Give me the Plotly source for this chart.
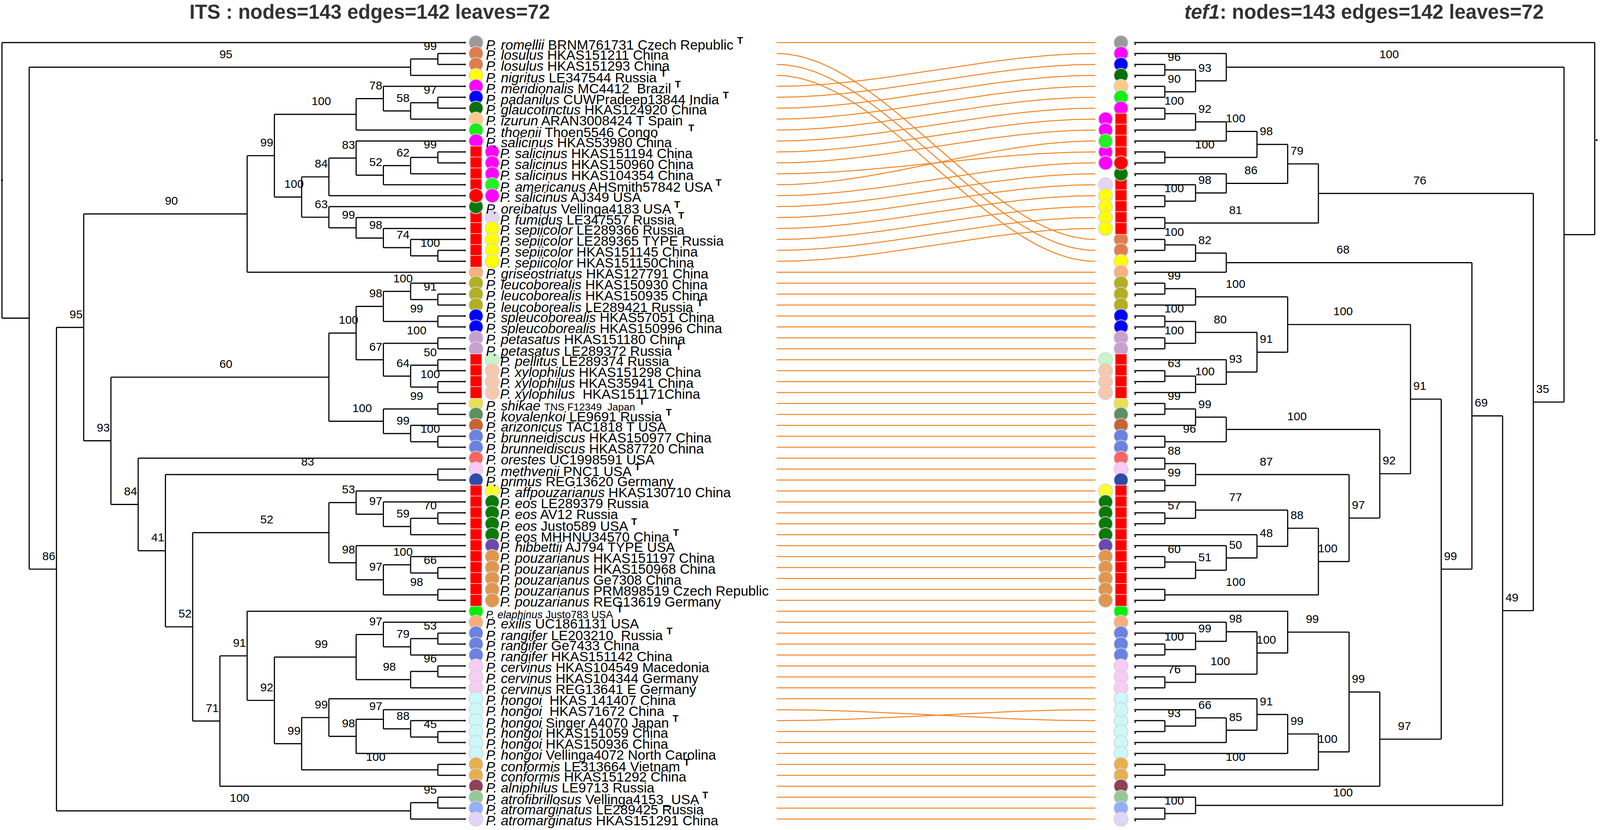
import numpy as np
import plotly.graph_objects as go

# ------------------------------------------------------------------ data
SPECIES = [
    "romellii", "losulus", "losulus", "nigritus", "meridionalis", "padanilus", "glaucotinctus",
    "izurun", "thoenii", "salicinus", "salicinus", "salicinus", "salicinus", "americanus",
    "salicinus", "oreibatus", "fumidus", "sepiicolor", "sepiicolor", "sepiicolor", "sepiicolor",
    "griseostriatus", "leucoborealis", "leucoborealis", "leucoborealis", "spleucoborealis",
    "spleucoborealis", "petasatus", "petasatus", "pellitus", "xylophilus", "xylophilus",
    "xylophilus", "shikae", "kovalenkoi", "arizonicus", "brunneidiscus", "brunneidiscus",
    "orestes", "methvenii", "primus", "affpouzarianus", "eos", "eos", "eos", "eos", "hibbettii",
    "pouzarianus", "pouzarianus", "pouzarianus", "pouzarianus", "pouzarianus", "elaphinus",
    "exilis", "rangifer", "rangifer", "rangifer", "cervinus", "cervinus", "cervinus", "hongoi",
    "hongoi", "hongoi", "hongoi", "hongoi", "hongoi", "conformis", "conformis", "alniphilus",
    "atrofibrillosus", "atromarginatus", "atromarginatus",
]
VOUCHER = [
    "BRNM761731 Czech Republic", "HKAS151211 China", "HKAS151293 China", "LE347544 Russia",
    "MC4412  Brazil", "CUWPradeep13844 India", "HKAS124920 China", "ARAN3008424 T Spain",
    "Thoen5546 Congo       ", "HKAS53980 China", "HKAS151194 China", "HKAS150960 China",
    "HKAS104354 China", "AHSmith57842 USA", "AJ349 USA", "Vellinga4183 USA", "LE347557 Russia",
    "LE289366 Russia", "LE289365 TYPE Russia", "HKAS151145 China", "HKAS151150China",
    "HKAS127791 China", "HKAS150930 China", "HKAS150935 China", "LE289421 Russia",
    "HKAS57051 China", "HKAS150996 China", "HKAS151180 China", "LE289372 Russia",
    "LE289374 Russia", "HKAS151298 China", "HKAS35941 China", " HKAS151171China",
    "TNS F12349  Japan", "LE9691 Russia", "TAC1818 T USA", "HKAS150977 China", "HKAS87720 China",
    "UC1998591 USA", "PNC1 USA", "REG13620 Germany", "HKAS130710 China", "LE289379 Russia",
    "AV12 Russia", "Justo589 USA", "MHHNU34570 China", "AJ794 TYPE USA", "HKAS151197 China",
    "HKAS150968 China", "Ge7308 China", "PRM898519 Czech Republic", "REG13619 Germany",
    "Justo783 USA", "UC1861131 USA", "LE203210  Russia", "Ge7433 China", "HKAS151142 China",
    "HKAS104549 Macedonia", "HKAS104344 Germany", "REG13641 E Germany", " HKAS 141407 China",
    " HKAS71672 China", "Singer A4070 Japan", "HKAS151059 China", "HKAS150936 China",
    "Vellinga4072 North Carolina", "LE313664 Vietnam", "HKAS151292 China", "LE9713 Russia",
    "Vellinga4153_USA", "LE289425 Russia", "HKAS151291 China",
]
TYPE_LEAVES = [1, 4, 5, 6, 9, 14, 16, 17, 25, 29, 34, 35, 40, 45, 46, 53, 55, 63, 67, 70]
SMALL_VOUCHER_LEAVES = [34]
SMALL_LABEL_LEAVES = [53]

COLORS = [
    "#9a9a9a", "#e07d4e", "#e07d4e", "#ffff00", "#ff00ff", "#0000ff", "#0a700a", "#ffcb8a",
    "#11f011", "#ff00ff", "#ff00ff", "#ff00ff", "#ff00ff", "#22f022", "#ff00ff", "#087808",
    "#e6d4f6", "#ffff00", "#ffff00", "#ffff00", "#ffff00", "#f8b07e", "#b2b020", "#b2b020",
    "#b2b020", "#0000ff", "#0000ff", "#c8a0cf", "#c8a0cf", "#c8f5c8", "#f8c8ae", "#f8c8ae",
    "#f8c8ae", "#e8e050", "#5e9060", "#c86432", "#6a82e0", "#6a82e0", "#ff6464", "#f8c8f8",
    "#2f4baa", "#ffff30", "#0a7a0a", "#0a7a0a", "#0a7a0a", "#0a7a0a", "#6a48b0", "#e0964e",
    "#e0964e", "#e0964e", "#e0964e", "#e0964e", "#00f000", "#f8ae7a", "#6a82e0", "#6a82e0",
    "#6a82e0", "#f8ccf5", "#f8ccf5", "#f8ccf5", "#ccf8f8", "#ccf8f8", "#ccf8f8", "#ccf8f8",
    "#ccf8f8", "#ccf8f8", "#e6b050", "#e6b050", "#904058", "#96c896", "#96aef8", "#e2d4f8",
]
RED_SQUARE_LEAVES = list(range(11, 22)) + list(range(30, 34)) + list(range(42, 53))
SECOND_COLUMN_LEAVES = [11, 12, 13, 14, 15, 17, 18, 19, 20, 21, 30, 31, 32, 33] + list(range(42, 53))
RED_DOT_LEAVES = [15]

# trees: (height, support, child, child)   leaf = leaf number
LEFT_TREE = (17, "", 1,
  (16, "",
    (2, "95", (1, "99", 2, 3), 4),
    (15, "86",
      (14, "95",
        (8, "90",
          (7, "99",
            (4, "100", (3, "78", 5, (2, "58", (1, "97", 6, 7), 8)), 9),
            (6, "100",
              (5, "84", (4, "83", 10, (3, "52", (2, "62", (1, "99", 11, 12), 13), 14)), 15),
              (5, "63", 16, (4, "99", 17, (3, "98", 18, (2, "74", 19, (1, "100", 20, 21))))))),
          22),
        (13, "93",
          (5, "60",
            (4, "100",
              (3, "98", (2, "100", 23, (1, "91", 24, 25)), (1, "99", 26, 27)),
              (3, "67", (1, "100", 28, 29), (2, "64", (1, "50", 30, 31), (1, "100", 32, 33)))),
            (3, "100", (1, "99", 34, 35), (2, "99", 36, (1, "100", 37, 38)))),
          (12, "84", 39,
            (11, "41", (1, "83", 40, 41),
              (10, "52",
                (5, "52",
                  (4, "53", 42, (3, "97", 43, (2, "59", (1, "70", 44, 45), 46))),
                  (4, "98", 47, (3, "97", (2, "100", 48, (1, "66", 49, 50)), (1, "98", 51, 52)))),
                (9, "71",
                  (8, "91", 53,
                    (7, "92",
                      (4, "99", (3, "97", 54, (2, "79", (1, "53", 55, 56), 57)),
                                (2, "98", (1, "96", 58, 59), 60)),
                      (6, "99", (5, "99", 61, (4, "98", (3, "97", 62, (2, "88", 63, (1, "45", 64, 65))), 66)),
                                (1, "100", 67, 68)))),
                  69)))))),
      (2, "100", (1, "95", 70, 71), 72))))

RIGHT_TREE = (15, "", 1,
  (14, "",
    (3, "100", 5, (2, "93", (1, "96", 6, 7), (1, "90", 8, 9))),
    (13, "35",
      (6, "76",
        (5, "79",
          (4, "98", (3, "100", (2, "92", (1, "100", 10, 11), 12), 14), (1, "100", 13, 15)),
          (3, "86", 16, (2, "98", 17, (1, "100", 18, 19)))),
        (1, "81", 20, 21)),
      (12, "49",
        (11, "69",
          (3, "68", (2, "82", (1, "100", 2, 3), 4), 22),
          (10, "99",
            (9, "91",
              (5, "100",
                (2, "100", (1, "99", 23, 24), 25),
                (4, "91",
                  (2, "80", (1, "100", 26, 27), (1, "100", 28, 29)),
                  (3, "93", 30, (2, "100", (1, "63", 31, 32), 33)))),
              (8, "92",
                (3, "100", (2, "99", (1, "99", 34, 35), 36), (1, "96", 37, 38)),
                (7, "97",
                  (2, "87", (1, "88", 39, 40), (1, "99", 41, 42)),
                  (6, "100",
                    (5, "88",
                      (2, "77", 43, (1, "57", 44, 45)),
                      (4, "48", 46, (3, "50", 47, (2, "51", (1, "60", 48, 49), 50)))),
                    (1, "100", 51, 52))))),
            (8, "97",
              (7, "99",
                (5, "99", 53, (4, "100", (3, "98", 54, (2, "99", 55, (1, "100", 56, 57))),
                                         (2, "100", 58, (1, "76", 59, 60)))),
                (6, "100", (5, "99", (4, "91", 61, (3, "85", (2, "66", 63, (1, "93", 62, 64)), 65)), 66),
                           (1, "100", 67, 68))),
              69))),
        (2, "100", 70, (1, "100", 71, 72))))))

TITLE_LEFT = "ITS : nodes=143 edges=142 leaves=72"
TITLE_RIGHT = "<i>tef1</i>: nodes=143 edges=142 leaves=72"

# ------------------------------------------------------------------ layout constants
W, H = 4252, 2125
Y0, ROW = 109, 28
L_TIP, L_UNIT = 1236, 72.4
R_TIP, R_UNIT = 3014, 81.6
L_COL1, L_COL2 = 1265, 1308
R_COL1, R_COL2 = 2979, 2938
L_TEXT1, L_TEXT2 = 1289, 1327
CONN_L, CONN_R = 2064, 2911
FONT = "Liberation Sans, Arial, sans-serif"
ORANGE = "#f0821e"


def leaf_order(node):
    if isinstance(node, int):
        return [node]
    out = []
    for k in node[2:]:
        out += leaf_order(k)
    return out


def layout_tree(tree, tip_x, unit, direction, ypos):
    xs, ys, labels = [], [], []

    def rec(node):
        if isinstance(node, int):
            return tip_x, ypos[node]
        h, sup, *kids = node
        x = tip_x + direction * h * unit
        pos = [rec(k) for k in kids]
        kys = [p[1] for p in pos]
        xs.extend([x, x, None]); ys.extend([min(kys), max(kys), None])
        for k, (kx, ky) in zip(kids, pos):
            xs.extend([x, kx, None]); ys.extend([ky, ky, None])
            if not isinstance(k, int) and k[1]:
                labels.append(((x + kx) / 2 - direction * 16, ky - 31, k[1]))
        return x, (min(kys) + max(kys)) / 2

    root = rec(tree)
    return xs, ys, labels, root


left_order = leaf_order(LEFT_TREE)
right_order = leaf_order(RIGHT_TREE)
y_left = {leaf: Y0 + i * ROW for i, leaf in enumerate(left_order)}
y_right = {leaf: Y0 + i * ROW for i, leaf in enumerate(right_order)}

lx, ly, llab, lroot = layout_tree(LEFT_TREE, L_TIP, L_UNIT, -1, y_left)
rx, ry, rlab, rroot = layout_tree(RIGHT_TREE, R_TIP, R_UNIT, +1, y_right)

fig = go.Figure()

# connectors
cx, cy = [], []
t = np.linspace(0, 1, 60)
s = 3 * t ** 2 - 2 * t ** 3
for leaf in range(1, 73):
    a, b = y_left[leaf], y_right[leaf]
    cx.extend(list(CONN_L + t * (CONN_R - CONN_L)) + [None])
    cy.extend(list(a + (b - a) * s) + [None])
fig.add_trace(go.Scatter(x=cx, y=cy, mode="lines", line=dict(color=ORANGE, width=2.5)))

# trees
for xs, ys in ((lx, ly), (rx, ry)):
    fig.add_trace(go.Scatter(x=xs, y=ys, mode="lines",
                             line=dict(color="black", width=2.9)))

# tip dots and root dots
leaves = list(range(1, 73))
fig.add_trace(go.Scatter(x=[L_TIP] * 72, y=[y_left[l] for l in leaves], mode="markers",
                         marker=dict(color="black", size=5, symbol="triangle-right")))
fig.add_trace(go.Scatter(x=[R_TIP + 3] * 72, y=[y_right[l] + 4 for l in leaves], mode="markers",
                         marker=dict(color="black", size=4)))
fig.add_trace(go.Scatter(x=[lroot[0], rroot[0] + 5], y=[lroot[1], rroot[1] + 4], mode="markers",
                         marker=dict(color="black", size=5)))


def add_markers(col1, col2, ypos):
    under = [l for l in leaves if l not in SECOND_COLUMN_LEAVES and l not in RED_SQUARE_LEAVES]
    over = [l for l in leaves if l not in SECOND_COLUMN_LEAVES and l in RED_SQUARE_LEAVES]
    outline = dict(color="#d4d4d4", width=2)
    fig.add_trace(go.Scatter(x=[col1] * len(under), y=[ypos[l] for l in under], mode="markers",
                             marker=dict(size=36, color=[COLORS[l - 1] for l in under], line=outline)))
    fig.add_trace(go.Scatter(x=[col1] * len(RED_SQUARE_LEAVES),
                             y=[ypos[l] for l in RED_SQUARE_LEAVES], mode="markers",
                             marker=dict(size=30, symbol="square", color="#ff0000",
                                         line=dict(color="#e8e8e8", width=1.5))))
    fig.add_trace(go.Scatter(x=[col1] * len(over), y=[ypos[l] for l in over], mode="markers",
                             marker=dict(size=36, color=[COLORS[l - 1] for l in over], line=outline)))
    fig.add_trace(go.Scatter(x=[col1] * len(RED_DOT_LEAVES), y=[ypos[l] for l in RED_DOT_LEAVES],
                             mode="markers", marker=dict(size=36, color="#ff0000", line=outline)))
    fig.add_trace(go.Scatter(x=[col2] * len(SECOND_COLUMN_LEAVES),
                             y=[ypos[l] for l in SECOND_COLUMN_LEAVES], mode="markers",
                             marker=dict(size=36, color=[COLORS[l - 1] for l in SECOND_COLUMN_LEAVES],
                                         line=outline)))


add_markers(L_COL1, L_COL2, y_left)
add_markers(R_COL1, R_COL2, y_right)

# support labels
for labs in (llab, rlab):
    fig.add_trace(go.Scatter(x=[a for a, _, _ in labs], y=[b for _, b, _ in labs],
                             text=[c for _, _, c in labs], mode="text",
                             textfont=dict(family=FONT, size=30, color="black")))

# leaf labels
annotations = []
for leaf in leaves:
    sp, vo = SPECIES[leaf - 1], VOUCHER[leaf - 1].replace("  ", "\u00a0 ")
    if vo.startswith(" "):
        vo = "\u00a0" + vo[1:]
    vo = vo.replace("\u00a0 \u00a0", "\u00a0\u00a0\u00a0").replace(" \u00a0", "\u00a0\u00a0")
    if leaf in SMALL_LABEL_LEAVES:
        txt = f"<span style='font-size:27px'><i>P. {sp}</i> {vo}</span>"
    elif leaf in SMALL_VOUCHER_LEAVES:
        txt = f"<i>P. {sp}</i> <span style='font-size:26px'>{vo}</span>"
    else:
        txt = f"<i>P. {sp}</i> {vo}"
    if leaf in TYPE_LEAVES:
        txt += " <sup><b>T</b></sup>"
    annotations.append(dict(
        x=L_TEXT2 if leaf in SECOND_COLUMN_LEAVES else L_TEXT1, y=y_left[leaf] + 3,
        xref="x", yref="y", xanchor="left", yanchor="middle", showarrow=False,
        text=txt, font=dict(family=FONT, size=35, color="black")))

annotations.append(dict(x=983, y=30, xref="x", yref="y", showarrow=False, xanchor="center",
                        yanchor="middle", text=f"<b>{TITLE_LEFT}</b>",
                        font=dict(family=FONT, size=51, color="#333333")))
annotations.append(dict(x=3625, y=30, xref="x", yref="y", showarrow=False, xanchor="center",
                        yanchor="middle", text=f"<b>{TITLE_RIGHT}</b>",
                        font=dict(family=FONT, size=51, color="#333333")))

fig.update_layout(
    autosize=True, margin=dict(l=0, r=0, t=0, b=0),
    paper_bgcolor="white", plot_bgcolor="white", showlegend=False, hovermode=False,
    annotations=annotations,
    xaxis=dict(range=[0, W], visible=False, fixedrange=True),
    yaxis=dict(range=[H, 0], visible=False, fixedrange=True),
)

POST = ("document.body.style.margin='0';document.body.style.overflow='hidden';"
        "var gd=document.getElementById('{plot_id}');"
        "gd.style.width='100vw';gd.style.height='100vh';Plotly.Plots.resize(gd);")

fig.write_html("out.html", default_width="100vw", default_height="100vh",
               post_script=POST,
               config={"displayModeBar": False, "staticPlot": True, "responsive": True})
